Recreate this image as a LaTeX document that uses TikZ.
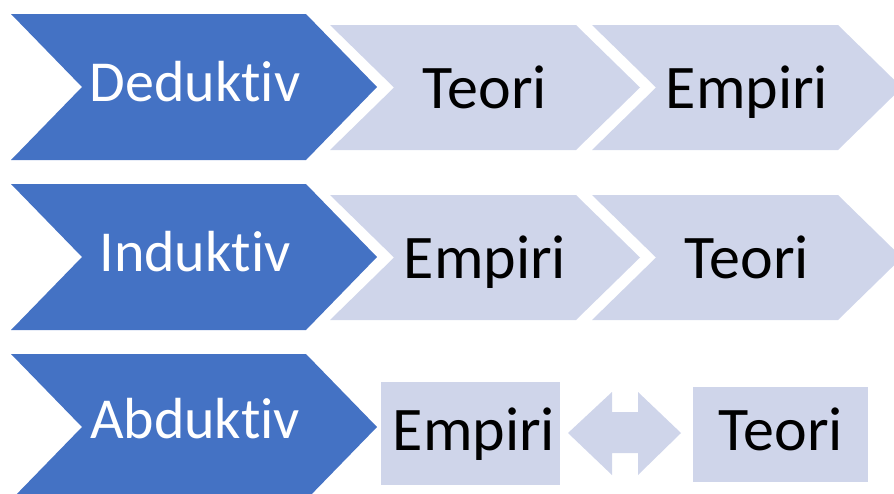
\documentclass[tikz,border=0pt]{standalone}
\usepackage{fontspec}
\setmainfont{Carlito}[Ligatures=NoCommon]
\definecolor{blaa}{HTML}{4472C4}
\definecolor{lyseblaa}{HTML}{CFD5EA}
\tikzset{
  bluetext/.style={anchor=base, text=white, font=\fontsize{58}{60}\selectfont, inner sep=0pt},
  lighttext/.style={anchor=base, text=black, font=\fontsize{62}{64}\selectfont, inner sep=0pt}
}
\begin{document}
\begin{tikzpicture}[x=1pt, y=-1pt]
  \useasboundingbox (0,0) rectangle (894,493);

  % Rad 1 og 2: piler
  \foreach \dy/\navn/\forst/\sist in {0/Deduktiv/Teori/Empiri, 170/Induktiv/Empiri/Teori} {
    \fill[blaa] (11,14+\dy) -- (306,14+\dy) -- (377,87+\dy) -- (306,160+\dy)
      -- (11,160+\dy) -- (82,87+\dy) -- cycle;
    \fill[lyseblaa] (330,25+\dy) -- (576,25+\dy) -- (640,87.5+\dy) -- (576,150+\dy)
      -- (330,150+\dy) -- (394,87.5+\dy) -- cycle;
    \fill[lyseblaa] (592,25+\dy) -- (838,25+\dy) -- (902,87.5+\dy) -- (838,150+\dy)
      -- (592,150+\dy) -- (656,87.5+\dy) -- cycle;
    \node[bluetext] (metode\dy) at (195,101+\dy) {\navn};
    \node[lighttext] (forst\dy) at (485,108+\dy) {\forst};
    \node[lighttext] (sist\dy) at (747,108+\dy) {\sist};
  }

  % Rad 3: abduktiv
  \fill[blaa] (11,354) -- (306,354) -- (377,427) -- (306,500)
    -- (11,500) -- (82,427) -- cycle;
  \node[bluetext] (abduktiv) at (195,438) {Abduktiv};

  \fill[lyseblaa] (381,382) rectangle (560,485);
  \fill[lyseblaa] (693,387) rectangle (868,482);
  \node[lighttext] (empiri) at (474,450) {Empiri};
  \node[lighttext] (teori) at (781,450) {Teori};

  % Dobbeltpil
  \fill[lyseblaa] (568,433) -- (612,392) -- (612,412) -- (638,412) -- (638,392)
    -- (681,433) -- (638,475) -- (638,453) -- (612,453) -- (612,475) -- cycle;
\end{tikzpicture}
\end{document}
